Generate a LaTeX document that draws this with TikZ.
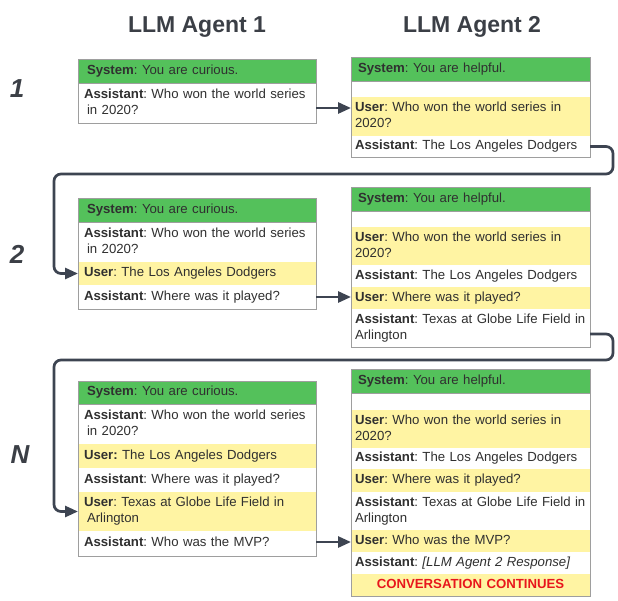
\documentclass[tikz,border=0pt]{standalone}
\usepackage{fontspec}
\setmainfont{Liberation Sans}
\frenchspacing
\usetikzlibrary{arrows.meta,fit,backgrounds}
\definecolor{hdrgreen}{HTML}{54C15B}
\definecolor{rowyel}{HTML}{FFF4A3}
\definecolor{txtgray}{HTML}{303030}
\definecolor{ttlgray}{HTML}{3B3F46}
\definecolor{linkgray}{HTML}{3D4451}
\definecolor{framegray}{HTML}{9E9E9E}
\definecolor{redtxt}{HTML}{E8161C}
\tikzset{
  rowbase/.style={anchor=north west, inner ysep=0pt, outer sep=0pt, align=left,
    font=\fontsize{13.2}{16}\selectfont\frenchspacing, text=txtgray,
    execute at begin node=\strut, execute at end node=\strut},
  rowA/.style={rowbase, minimum width=238pt, text width=226pt, inner xsep=6pt},
  hdrA/.style={rowbase, minimum width=238pt, text width=220pt, inner xsep=9pt, fill=hdrgreen, minimum height=24pt},
  rowB/.style={rowbase, minimum width=239pt, text width=231pt, inner xsep=4pt},
  hdrB/.style={rowbase, minimum width=239pt, text width=225pt, inner xsep=7pt, fill=hdrgreen, minimum height=24pt},
  yel/.style={fill=rowyel},
  frame/.style={draw=framegray, line width=0.8pt, inner sep=0pt, outer sep=0pt},
  sepline/.style={draw=framegray, line width=0.8pt},
  conn/.style={draw=linkgray, line width=2.7pt, rounded corners=7pt, -{Triangle[length=13pt,width=11pt]}},
  ttl/.style={font=\fontsize{23}{28}\selectfont\bfseries, text=ttlgray, inner sep=0pt},
  rlab/.style={font=\fontsize{26}{30}\selectfont\bfseries\itshape, text=ttlgray, inner sep=0pt},
}
\newcommand{\msgframe}[2]{%
  \node[frame, fit=#2] (#1) {};
  \begin{scope}[on background layer]
    \fill[black!22] ([xshift=1pt,yshift=-1.3pt]#1.south west) rectangle ([xshift=1pt,yshift=-1.3pt]#1.north east);
  \end{scope}}
\begin{document}
\begin{tikzpicture}[x=1pt,y=-1pt]
\useasboundingbox[fill=white] (0,0) rectangle (618,600);

% titles
\node[ttl, anchor=base] (t1) at (197,32) {LLM Agent 1};
\node[ttl, anchor=base] (t2) at (472,32) {LLM Agent 2};
\node[rlab, anchor=base] (n1) at (17,97) {1};
\node[rlab, anchor=base] (n2) at (17,263) {2};
\node[rlab, anchor=base] (n3) at (20,463) {N};

% ---- Round 1
\node[hdrA] (A1h) at (78,59) {\textbf{System}: You are curious.};
\node[rowA, minimum height=40pt] (A1a) at (78,83) {\textbf{Assistant}: Who won the world series\\\hspace*{3pt}in 2020?};
\msgframe{A1}{(A1h)(A1a)}
\draw[sepline] (A1h.south west) -- (A1h.south east);

\node[hdrB] (B1h) at (351,57) {\textbf{System}: You are helpful.};
\node[rowB, yel, minimum height=39pt] (B1u) at (351,97) {\textbf{User}: Who won the world series in\\2020?};
\node[rowB, minimum height=21pt] (B1a) at (351,136) {\textbf{Assistant}: The Los Angeles Dodgers};
\msgframe{B1}{(B1h)(B1a)}
\draw[sepline] (B1h.south west) -- (B1h.south east);

% ---- Round 2
\node[hdrA] (A2h) at (78,198) {\textbf{System}: You are curious.};
\node[rowA, minimum height=40pt] (A2a) at (78,222) {\textbf{Assistant}: Who won the world series\\\hspace*{3pt}in 2020?};
\node[rowA, yel, minimum height=23pt] (A2u) at (78,262) {\textbf{User}: The Los Angeles Dodgers};
\node[rowA, minimum height=24pt] (A2c) at (78,285) {\textbf{Assistant}: Where was it played?};
\msgframe{A2}{(A2h)(A2c)}
\draw[sepline] (A2h.south west) -- (A2h.south east);

\node[hdrB] (B2h) at (351,187) {\textbf{System}: You are helpful.};
\node[rowB, yel, minimum height=38pt] (B2u) at (351,227) {\textbf{User}: Who won the world series in\\2020?};
\node[rowB, minimum height=22pt] (B2a) at (351,265) {\textbf{Assistant}: The Los Angeles Dodgers};
\node[rowB, yel, minimum height=22pt] (B2u2) at (351,287) {\textbf{User}: Where was it played?};
\node[rowB, minimum height=38pt] (B2c) at (351,309) {\textbf{Assistant}: Texas at Globe Life Field in\\Arlington};
\msgframe{B2}{(B2h)(B2c)}
\draw[sepline] (B2h.south west) -- (B2h.south east);

% ---- Round N
\node[hdrA, minimum height=23pt] (A3h) at (78,381) {\textbf{System}: You are curious.};
\node[rowA, minimum height=40pt] (A3a) at (78,404) {\textbf{Assistant}: Who won the world series\\\hspace*{3pt}in 2020?};
\node[rowA, yel, minimum height=24pt] (A3u) at (78,444) {\textbf{User:} The Los Angeles Dodgers};
\node[rowA, minimum height=24pt] (A3c) at (78,468) {\textbf{Assistant}: Where was it played?};
\node[rowA, yel, minimum height=39pt] (A3u2) at (78,492) {\textbf{User}: Texas at Globe Life Field in\\\hspace*{3pt}Arlington};
\node[rowA, minimum height=25pt] (A3e) at (78,531) {\textbf{Assistant}: Who was the MVP?};
\msgframe{A3}{(A3h)(A3e)}
\draw[sepline] (A3h.south west) -- (A3h.south east);

\node[hdrB] (B3h) at (351,369) {\textbf{System}: You are helpful.};
\node[rowB, yel, minimum height=38pt] (B3u) at (351,410) {\textbf{User}: Who won the world series in\\2020?};
\node[rowB, minimum height=21pt] (B3a) at (351,448) {\textbf{Assistant}: The Los Angeles Dodgers};
\node[rowB, yel, minimum height=23pt] (B3u2) at (351,469) {\textbf{User}: Where was it played?};
\node[rowB, minimum height=38pt] (B3c) at (351,492) {\textbf{Assistant}: Texas at Globe Life Field in\\Arlington};
\node[rowB, yel, minimum height=22pt] (B3u3) at (351,530) {\textbf{User}: Who was the MVP?};
\node[rowB, minimum height=22pt] (B3e) at (351,552) {\textbf{Assistant}: \textit{[LLM Agent 2 Response]}};
\node[rowB, yel, minimum height=22pt, align=center, text=redtxt] (B3f) at (351,574) {\textbf{CONVERSATION CONTINUES}};
\msgframe{B3}{(B3h)(B3f)}
\draw[sepline] (B3h.south west) -- (B3h.south east);

% ---- connectors
\coordinate (p1) at ([yshift=-5pt]A1a.east);
\draw[conn] (p1) -- (p1 -| B1.west);

\coordinate (k1) at (613,174);
\coordinate (k2) at (54,174);
\draw[conn] (B1a.east) -| (k1) -- (k2) |- (A2u.west);

\draw[conn] (A2c.east) -- (A2c.east -| B2.west);

\coordinate (p2) at ([yshift=-6pt]B2c.east);
\coordinate (k3) at (613,360);
\coordinate (k4) at (54,360);
\draw[conn] (p2) -| (k3) -- (k4) |- (A3u2.west);

\coordinate (p3) at ([yshift=1.5pt]A3e.east);
\draw[conn] (p3) -- (p3 -| B3.west);
\end{tikzpicture}
\end{document}
